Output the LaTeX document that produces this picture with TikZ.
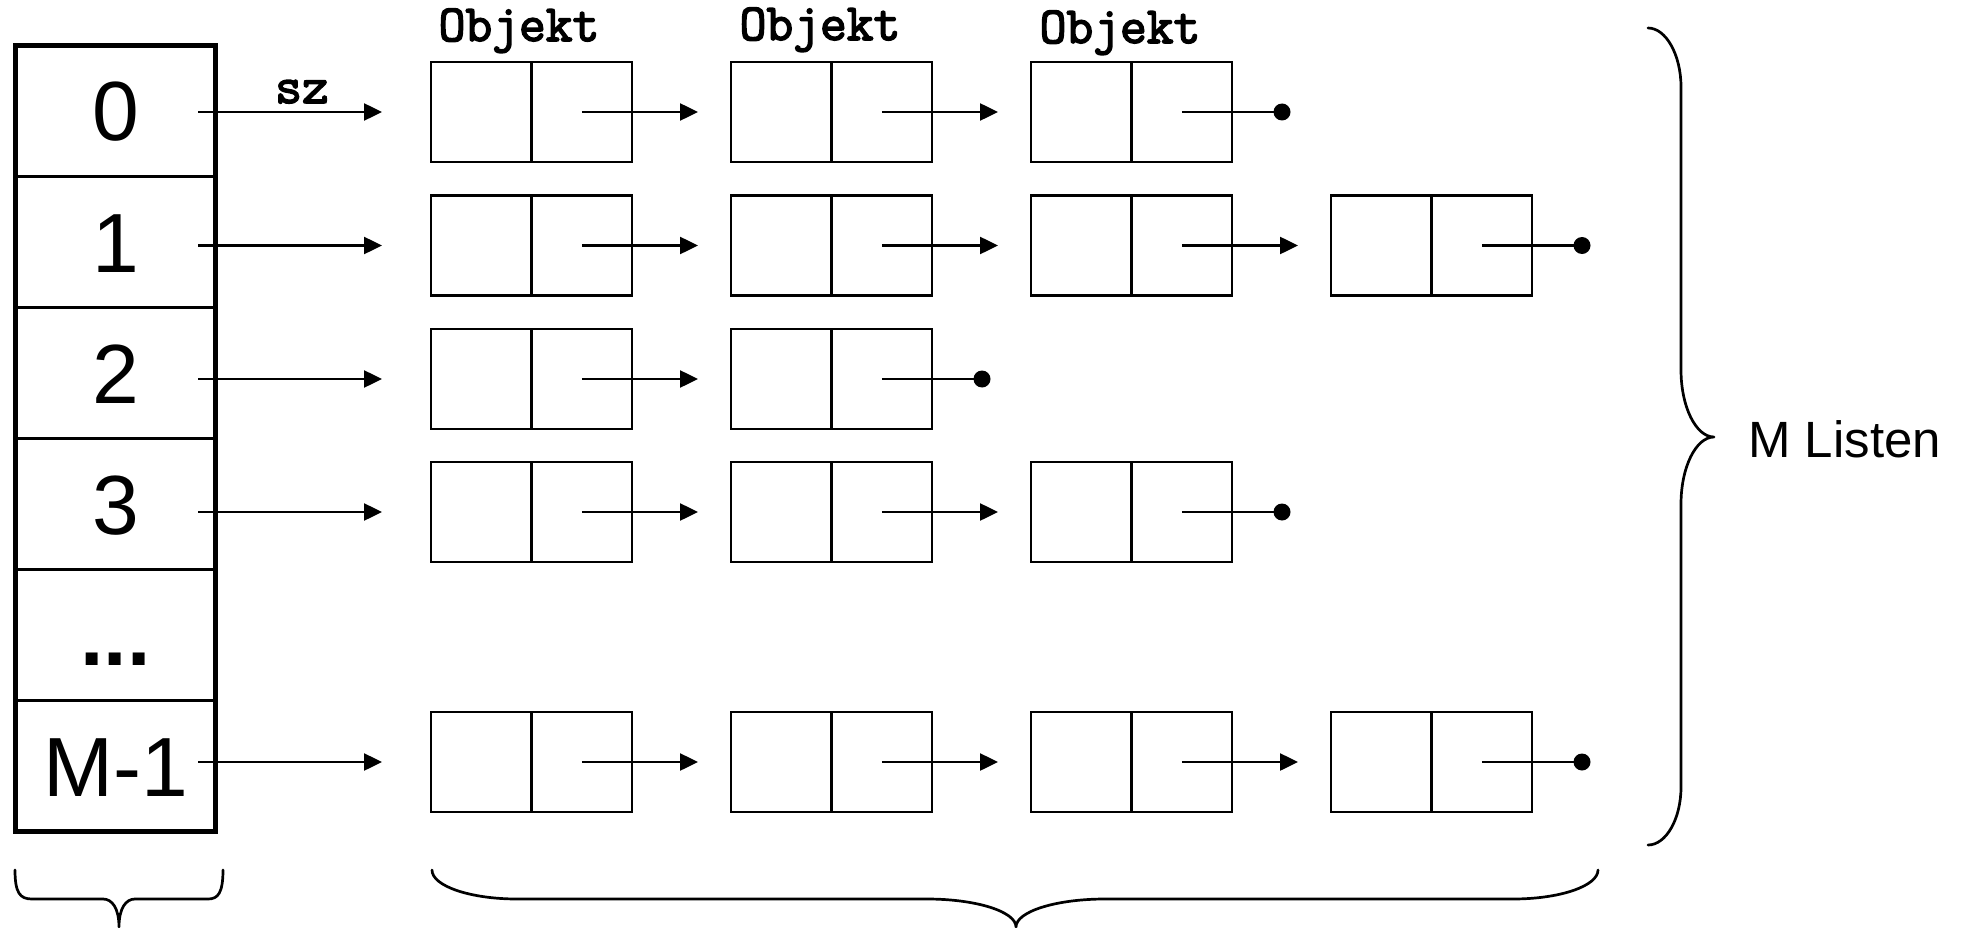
\documentclass[tikz,border=0pt]{standalone}
\usepackage{fontspec}
\setmainfont{Liberation Sans}
\newfontfamily\courfont{Latin Modern Mono}[FakeBold=3]
\usetikzlibrary{arrows.meta}
\tikzset{
  cellbox/.style={draw, line width=2.7pt, minimum width=200pt, minimum height=131pt, inner sep=0pt, outer sep=0pt,
    font=\fontsize{84}{84}\selectfont, text height=60pt, text depth=0pt},
  half/.style={draw, line width=2.5pt, minimum width=100.5pt, minimum height=100pt, inner sep=0pt, outer sep=0pt},
  ptr/.style={line width=2.5pt, -{Triangle[length=18pt,width=17pt]}},
  nilline/.style={line width=2.5pt},
  nil/.style={circle, fill=black, inner sep=0pt, minimum size=17pt},
  codelabel/.style={font=\courfont\bfseries\fontsize{52}{52}\selectfont, anchor=base, inner sep=0pt},
  bracepath/.style={line width=2.7pt, line cap=round, line join=round},
}
\begin{document}
\begin{tikzpicture}[x=1pt,y=-1pt]
\useasboundingbox (0,0) rectangle (1964,928);

% hash table array
\node[cellbox] (a0) at (115.5,111) {0};
\node[cellbox] (a1) at (115.5,242) {1};
\node[cellbox] (a2) at (115.5,373) {2};
\node[cellbox] (a3) at (115.5,504) {3};
\node[cellbox] (a4) at (115.5,635) {\bfseries ...};
\node[cellbox] (a5) at (115.5,766) {M-1};
\draw[line width=5.5pt] (a0.north west) rectangle (a5.south east);

% lists
\foreach \r/\y/\n in {0/112/3, 1/245.5/4, 2/379/2, 3/512/3, 5/762/4}{
  \foreach \c in {1,...,\n}{
    \pgfmathsetmacro\L{131+300*\c}
    \node[half] (o\r-\c-l) at (\L+50.25,\y) {};
    \node[half] (o\r-\c-r) at (\L+150.75,\y) {};
  }
  \path (a\r.east) ++(-17.5,0) coordinate (s\r);
  \draw[ptr] (s\r |- o\r-1-l.center) -- ([xshift=-49pt]o\r-1-l.west);
  \foreach \c in {1,...,\n}{
    \pgfmathtruncatemacro\d{\c+1}
    \ifnum\c<\n
      \draw[ptr] (o\r-\c-r.center) -- ([xshift=-33pt]o\r-\d-l.west);
    \else
      \node[nil] (nil\r) at ([xshift=50pt]o\r-\c-r.east) {};
      \draw[nilline] (o\r-\c-r.center) -- (nil\r.center);
    \fi
  }
}

% labels
\node[codelabel] (sz) at (302,103) {sz};
\node[codelabel] (obj1) at (519,41) {Objekt};
\node[codelabel] (obj2) at (820,40) {Objekt};
\node[codelabel] (obj3) at (1120,43) {Objekt};
\node[anchor=base west, inner sep=0pt, font=\fontsize{51}{51}\selectfont] (mlisten) at (1748,457) {M Listen};

% right brace
\draw[bracepath] (1648,28) .. controls (1666,28) and (1681,55) .. (1681,87)
  -- (1681,370) .. controls (1681,407) and (1696,437) .. (1714,437)
  .. controls (1696,437) and (1681,467) .. (1681,504)
  -- (1681,787) .. controls (1681,819) and (1666,845) .. (1648,845);

% bottom left brace
\draw[bracepath] (15,870) .. controls (15,893) and (20,899) .. (32,899)
  -- (103,899) .. controls (112,899) and (119,908) .. (119,927)
  .. controls (119,908) and (126,899) .. (135,899)
  -- (208,899) .. controls (218,899) and (223,893) .. (223,870);

% bottom right brace
\draw[bracepath] (432,870) .. controls (432,886) and (470,899) .. (517,899)
  -- (927,899) .. controls (976,899) and (1016,911.5) .. (1016,927)
  .. controls (1016,911.5) and (1056,899) .. (1105,899)
  -- (1513,899) .. controls (1560,899) and (1598,886) .. (1598,870);
\end{tikzpicture}
\end{document}
